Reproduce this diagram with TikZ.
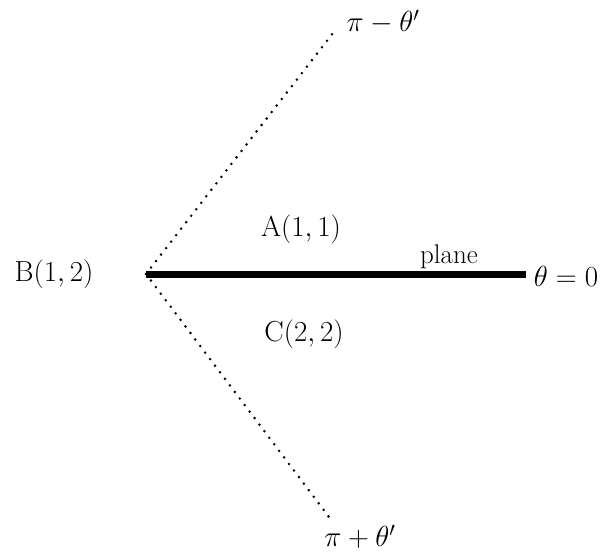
\documentclass[tikz,border=0pt]{standalone}
\usepackage{fix-cm}
\begin{document}
\begin{tikzpicture}[x=1pt,y=-1pt,
  lbl/.style={inner sep=0pt, font=\fontsize{29}{34}\selectfont},
  small/.style={inner sep=0pt, font=\fontsize{27}{31}\selectfont},
  thickline/.style={line width=7pt},
  dotline/.style={line width=2.8pt, line cap=round, dash pattern=on 0pt off 8.2pt}]
\useasboundingbox (0,0) rectangle (604,556);
\coordinate (O) at (146,274);
\coordinate (E) at (526,274);
\coordinate (T) at (333,33);
\coordinate (Bo) at (332,521);
\draw[thickline] (O) -- (E);
\draw[dotline] (O) -- (T);
\draw[dotline] (O) -- (Bo);
\node[lbl] (top) at (383,22) {$\pi - \theta'$};
\node[lbl] (bot) at (360,537) {$\pi + \theta'$};
\node[lbl] (A) at (301,229) {A$(1,1)$};
\node[lbl] (B) at (54,274) {B$(1,2)$};
\node[lbl] (C) at (304,334) {C$(2,2)$};
\node[small, anchor=base] (pl) at (449,263) {plane};
\node[lbl] (th) at (566,276) {$\theta = 0$};
\end{tikzpicture}
\end{document}
